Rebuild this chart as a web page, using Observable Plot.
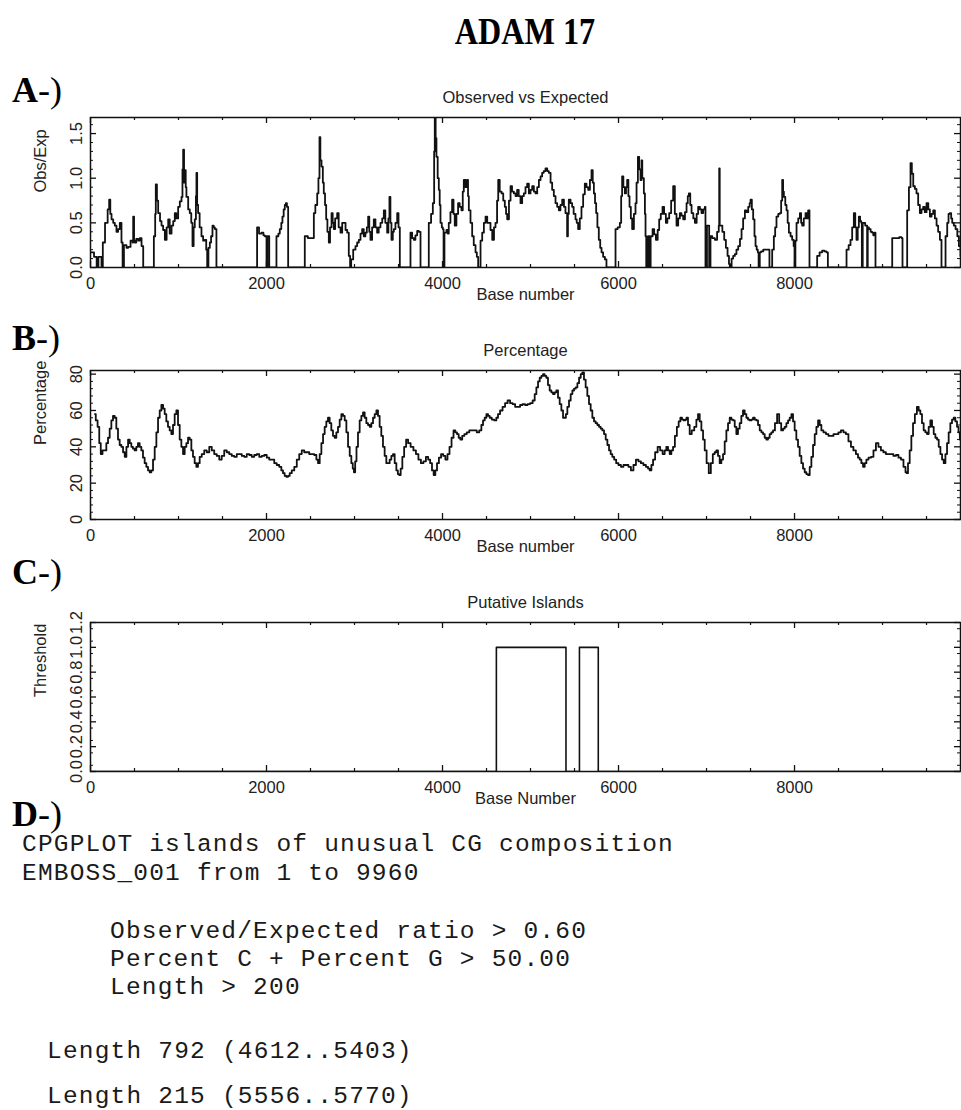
<!DOCTYPE html>
<html>
<head>
<meta charset="utf-8">
<script src="https://cdn.jsdelivr.net/npm/d3@7"></script>
<script src="https://cdn.jsdelivr.net/npm/@observablehq/plot@0.6"></script>
<style>
  html, body { margin: 0; padding: 0; background: #fff; }
  body { width: 961px; height: 1110px; position: relative; overflow: hidden; }
  .abs { position: absolute; white-space: pre; line-height: 1; }
  .heading { font-family: "Liberation Serif", "Times New Roman", serif; font-weight: bold; font-size: 37px; color: #000; transform: scaleX(0.87); transform-origin: 525px 0; }
  .tag { font-family: "Liberation Serif", "Times New Roman", serif; font-size: 36px; color: #000; }
  .tag b { font-weight: bold; }
  .mono { font-family: "Liberation Mono", "Courier New", monospace; font-size: 24.5px; letter-spacing: 1.2px; color: #1a1a1a; }
  .panel { position: absolute; left: 0; top: 0; width: 961px; height: 1110px; }
  .panel svg { max-width: none !important; display: block; }
</style>
</head>
<body>
<div id="panelA" class="panel"></div>
<div id="panelB" class="panel"></div>
<div id="panelC" class="panel"></div>
<div class="abs heading" style="left:0;width:1050px;text-align:center;top:13px">ADAM 17</div>
<div class="abs tag" style="left:12px;top:72px"><b>A</b>-)</div>
<div class="abs tag" style="left:12px;top:320px"><b>B</b>-)</div>
<div class="abs tag" style="left:12px;top:554px"><b>C</b>-)</div>
<div class="abs tag" style="left:12px;top:796px"><b>D</b>-)</div>
<div id="report"></div>
<script>
// CpG observed/expected ratio along the sequence: [base, ratio]
const obsExpTrace = [
  [0,0.17],[40,0.12],[70,0],[90,0.12],[125,0],[140,0.28],[165,0.5],[195,0.65],[212,0.76],[225,0.6],
  [239,0.54],[258,0.5],[276,0.47],[295,0.4],[314,0.43],[333,0.5],[352,0.28],[365,0],[380,0.25],[409,0.22],
  [428,0.23],[455,0.3],[478,0.28],[485,0.57],[495,0.3],[504,0.28],[520,0.32],[542,0.3],[560,0.33],[580,0.24],
  [599,0],[720,0.35],[735,0.6],[742,0.93],[755,0.75],[769,0.61],[790,0.52],[807,0.47],[825,0.42],[845,0.31],
  [865,0.45],[883,0.54],[900,0.38],[921,0.47],[940,0.52],[958,0.61],[975,0.55],[996,0.68],[1015,0.74],[1034,0.79],
  [1045,1.1],[1053,1.32],[1063,0.95],[1072,1.09],[1082,0.9],[1090,0.79],[1110,0.65],[1128,0.61],[1145,0.5],[1159,0.24],
  [1172,0.45],[1185,0.54],[1198,0.8],[1204,1.06],[1212,0.7],[1223,0.61],[1240,0.45],[1261,0.35],[1280,0.3],[1299,0.31],
  [1315,0.2],[1326,0],[1340,0.22],[1356,0.28],[1370,0.35],[1386,0.47],[1400,0.45],[1413,0.43],[1431,0],[1893,0.45],
  [1915,0.38],[1943,0.39],[1965,0.36],[1981,0.35],[2000,0],[2010,0.35],[2031,0],[2113,0.35],[2135,0.38],[2151,0.43],
  [2168,0.5],[2181,0.57],[2195,0.65],[2208,0.7],[2220,0.72],[2232,0.68],[2246,0],[2435,0.35],[2470,0.33],[2510,0.33],
  [2538,0.61],[2555,0.7],[2576,0.83],[2590,1.0],[2602,1.46],[2612,1.2],[2625,1.13],[2640,0.95],[2651,0.83],[2665,0.7],
  [2678,0.54],[2692,0.4],[2708,0.28],[2722,0.45],[2739,0.61],[2752,0.5],[2765,0.43],[2780,0.55],[2803,0.61],[2820,0.45],
  [2841,0.39],[2860,0.5],[2879,0.5],[2898,0.42],[2917,0.39],[2935,0.13],[2950,0],[2962,0.09],[2985,0.2],[3011,0.24],
  [3030,0.28],[3049,0.31],[3068,0.38],[3087,0.43],[3105,0.35],[3124,0.39],[3140,0.45],[3155,0.57],[3168,0.4],[3181,0.31],
  [3200,0.45],[3219,0.54],[3238,0.45],[3257,0.39],[3275,0.45],[3295,0.5],[3315,0.55],[3333,0.64],[3350,0.5],[3371,0.39],
  [3385,0.55],[3397,0.79],[3408,0.5],[3420,0.31],[3435,0.4],[3447,0.43],[3465,0.5],[3485,0.61],[3500,0.45],[3515,0],
  [3636,0.39],[3655,0.33],[3674,0.31],[3692,0.36],[3712,0.41],[3730,0.4],[3750,0],[3844,0.5],[3870,0.6],[3890,0.72],
  [3905,1.3],[3912,1.68],[3922,1.45],[3931,1.24],[3945,1.0],[3958,0.87],[3968,0.7],[3977,0.5],[3992,0.45],[4003,0.43],
  [4012,0],[4022,0.39],[4045,0.42],[4060,0.38],[4071,0.5],[4090,0.62],[4109,0.76],[4125,0.6],[4139,0.47],[4158,0.6],
  [4177,0.72],[4195,0.68],[4215,0.64],[4230,0.85],[4242,0.98],[4262,0.9],[4280,0.98],[4290,0.8],[4299,0.64],[4318,0.5],
  [4337,0.35],[4355,0.25],[4375,0.17],[4390,0.12],[4405,0],[4432,0.3],[4451,0.39],[4470,0.5],[4489,0.57],[4508,0.5],
  [4527,0.5],[4545,0.42],[4565,0.31],[4585,0.45],[4602,0.5],[4620,0.75],[4633,0.98],[4650,0.85],[4671,0.83],[4690,0.75],
  [4708,0.68],[4722,0.6],[4735,0.54],[4755,0.75],[4773,0.91],[4790,0.85],[4811,0.83],[4830,0.8],[4848,0.87],[4866,0.8],
  [4886,0.72],[4905,0.8],[4924,0.83],[4943,0.9],[4962,0.94],[4981,0.83],[5000,0.87],[5019,0.91],[5038,0.85],[5057,0.83],
  [5076,0.9],[5095,0.98],[5114,1.02],[5132,1.06],[5150,1.08],[5170,1.11],[5190,1.08],[5208,1.06],[5228,0.95],[5246,0.87],
  [5265,0.8],[5284,0.72],[5303,0.68],[5322,0.64],[5340,0.7],[5360,0.76],[5380,0.68],[5397,0.61],[5416,0.35],[5425,0.6],
  [5435,0.76],[5455,0.72],[5473,0.68],[5490,0.6],[5511,0.54],[5525,0.5],[5541,0.43],[5560,0.55],[5579,0.68],[5598,0.82],
  [5617,0.94],[5636,0.9],[5655,0.87],[5675,0.98],[5693,1.09],[5707,0.95],[5720,0.83],[5733,0.72],[5746,0.61],[5760,0.45],
  [5776,0.31],[5792,0.22],[5807,0.17],[5825,0.12],[5845,0.09],[5863,0],[5966,0.43],[5990,0.45],[6015,0.5],[6030,0.8],
  [6041,1.02],[6055,0.9],[6072,0.83],[6085,0.9],[6098,0.98],[6112,0.8],[6125,0.68],[6140,0.55],[6155,0.43],[6175,0.6],
  [6193,0.72],[6205,0.95],[6220,1.24],[6235,1.1],[6250,0.98],[6262,1.2],[6270,1.0],[6288,0.83],[6300,0.6],[6307,0.35],
  [6315,0],[6335,0.35],[6350,0],[6365,0.35],[6387,0.43],[6405,0.37],[6425,0.31],[6445,0.42],[6462,0.54],[6480,0.6],
  [6500,0.68],[6518,0.6],[6538,0.5],[6555,0.55],[6576,0.61],[6598,0.75],[6621,0.91],[6640,0.6],[6659,0.47],[6678,0.55],
  [6697,0.61],[6715,0.58],[6735,0.54],[6755,0.62],[6773,0.72],[6787,0.8],[6799,0.83],[6815,0.7],[6830,0.61],[6850,0.55],
  [6868,0.5],[6888,0.6],[6905,0.68],[6925,0.65],[6943,0.61],[6962,0.65],[6981,0.68],[6988,0],[7005,0.47],[7030,0],
  [7045,0.35],[7065,0.33],[7095,0.31],[7120,0.4],[7139,0.47],[7144,1.11],[7150,0.47],[7163,0.47],[7180,0.4],[7201,0.31],
  [7220,0.22],[7239,0.13],[7255,0.04],[7265,0],[7285,0.1],[7303,0.13],[7322,0.15],[7340,0.2],[7360,0.24],[7380,0.32],
  [7398,0.43],[7416,0.55],[7436,0.64],[7455,0.62],[7474,0.68],[7490,0.72],[7500,0.76],[7515,0.65],[7530,0.54],[7545,0.35],
  [7557,0.24],[7570,0.2],[7583,0.17],[7592,0],[7605,0.17],[7620,0.18],[7645,0.2],[7670,0.2],[7695,0.2],[7715,0],
  [7746,0.2],[7765,0.35],[7780,0.45],[7795,0.57],[7815,0.6],[7833,0.61],[7848,0.75],[7860,0.98],[7870,0.85],[7879,0.79],
  [7895,0.7],[7909,0.64],[7922,0.5],[7936,0.39],[7955,0.35],[7973,0.31],[7990,0.24],[8000,0],[8010,0.3],[8023,0.5],
  [8042,0.55],[8061,0.61],[8075,0.5],[8087,0.47],[8105,0.55],[8125,0.61],[8140,0.55],[8155,0.64],[8170,0],[8257,0.13],
  [8285,0.17],[8314,0.19],[8340,0.18],[8363,0.17],[8379,0],[8591,0.2],[8615,0.25],[8636,0.31],[8655,0.45],[8674,0.61],
  [8690,0.45],[8704,0.31],[8718,0.45],[8731,0.57],[8745,0.52],[8758,0.5],[8765,0],[8775,0.5],[8788,0.5],[8803,0.47],
  [8818,0.47],[8825,0],[8832,0.45],[8845,0.43],[8865,0.4],[8883,0.39],[8895,0.36],[8909,0.39],[8920,0],[9110,0.33],
  [9140,0.33],[9167,0.33],[9190,0.34],[9216,0.33],[9227,0],[9280,0.64],[9300,0.9],[9318,1.17],[9333,1.05],[9349,0.91],
  [9368,0.88],[9386,0.83],[9405,0.7],[9424,0.61],[9443,0.65],[9462,0.68],[9480,0.62],[9500,0.72],[9520,0.65],[9538,0.57],
  [9557,0.6],[9576,0.64],[9595,0.55],[9614,0.47],[9632,0.4],[9652,0.31],[9670,0],[9716,0.35],[9735,0.5],[9750,0.6],
  [9765,0.61],[9780,0.55],[9792,0.5],[9810,0.47],[9830,0.43],[9850,0.35],[9868,0.24],[9886,0.13]
];

// C+G percentage along the sequence: [base, percent]
const gcTrace = [
  [50,58],[70,54.5],[91,51],[108,42],[125,36],[148,38],[170,38],[190,42],[208,45],[228,50],
  [246,54.5],[265,57],[284,56],[303,50],[322,44],[341,41],[360,40],[380,37],[398,34.5],[418,40],
  [436,44],[455,42],[473,40],[492,39],[511,38],[530,40],[549,42],[568,40],[587,38],[606,34],
  [625,31],[644,29],[663,27],[682,26],[701,27],[720,33],[739,40],[758,48],[777,56],[796,60],
  [815,63],[834,61],[852,58],[871,54],[890,51],[909,49],[928,47],[947,52],[966,58],[985,60],
  [1004,52],[1023,44],[1042,40],[1061,36],[1080,40],[1099,42],[1118,45],[1137,44],[1155,38],[1174,34.5],
  [1193,31],[1212,29],[1231,31],[1250,34.5],[1278,36],[1307,38],[1335,37],[1364,40],[1392,38],[1420,36],
  [1449,35],[1477,33],[1505,35],[1534,38],[1562,37],[1591,36],[1619,35],[1648,34.5],[1676,36],[1705,36],
  [1733,35],[1761,34.5],[1790,36],[1818,35.5],[1846,34.5],[1875,35.5],[1903,36],[1932,34.5],[1960,35],[1989,35.5],
  [2017,34],[2045,33],[2074,33],[2102,31],[2130,30],[2159,29],[2178,27],[2197,25.5],[2216,24],[2235,23.5],
  [2254,24],[2273,25.5],[2301,27],[2330,29],[2358,33],[2386,36],[2415,38],[2443,37],[2471,37],[2500,36],
  [2528,36],[2557,35.5],[2576,33],[2595,31],[2614,36],[2633,42],[2652,47],[2670,51],[2689,54],[2708,56],
  [2727,53],[2746,49],[2765,46],[2784,45],[2803,48],[2822,51],[2841,55],[2860,58],[2879,57],[2898,54.5],
  [2917,48],[2936,40],[2955,35],[2973,31],[2987,28],[3000,26],[3015,32],[3030,40],[3049,48],[3068,54.5],
  [3087,57],[3106,59],[3125,56],[3144,53],[3163,52],[3182,51],[3201,53],[3220,56],[3239,58],[3258,60],
  [3276,57],[3295,51],[3314,46],[3333,40],[3352,35],[3371,31],[3390,31],[3409,33],[3428,35],[3447,36],
  [3466,31],[3485,27],[3500,25],[3515,24.5],[3534,28],[3553,34.5],[3575,40],[3598,44],[3620,42],[3655,40],
  [3684,38],[3712,36],[3740,33],[3769,31],[3797,32],[3826,34.5],[3848,33],[3871,31],[3890,27],[3909,24.5],
  [3928,27],[3947,31],[3971,34],[3996,36],[4020,35],[4045,33],[4068,36],[4091,40],[4114,45],[4136,49],
  [4155,48],[4174,47],[4193,45],[4212,44],[4236,46],[4261,47],[4290,48],[4318,49],[4347,49],[4375,49],
  [4403,48],[4432,49],[4451,52],[4470,54.5],[4489,56],[4508,58],[4527,57],[4545,56],[4574,55],[4602,54.5],
  [4621,56],[4640,58],[4668,60],[4697,62],[4725,64],[4754,65.5],[4782,64],[4811,63.5],[4839,62],[4867,62],
  [4896,63],[4924,63.5],[4952,63],[4981,63.5],[5010,64],[5038,65.5],[5057,69],[5076,72.7],[5095,76],[5114,78],
  [5133,79],[5151,80],[5170,79],[5189,78],[5208,74],[5227,71],[5246,70],[5265,69],[5284,70],[5303,71],
  [5322,67],[5341,63.5],[5360,60],[5379,56],[5394,56],[5409,58],[5428,62],[5447,65.5],[5466,69],[5485,71],
  [5504,72],[5523,72.7],[5542,75],[5561,78],[5580,80],[5598,81],[5617,77],[5636,72.7],[5655,68],[5674,63.5],
  [5693,60],[5712,56],[5731,54],[5750,53],[5769,52],[5788,51],[5807,50],[5826,49],[5845,47],[5864,44],
  [5883,41],[5902,38],[5920,36],[5939,34.5],[5962,33],[5985,31],[6013,30],[6042,29],[6070,30],[6098,30],
  [6127,29],[6155,27],[6184,30],[6212,33],[6240,32],[6269,31],[6297,30],[6326,29],[6345,28],[6364,27],
  [6383,30],[6402,33],[6430,37],[6459,40],[6487,38],[6515,36],[6534,38],[6553,40],[6572,38],[6591,36],
  [6610,38],[6629,40],[6652,46],[6674,51],[6693,54],[6712,56],[6731,55],[6750,54.5],[6765,55],[6780,56],
  [6799,52],[6818,47],[6846,49],[6875,51],[6894,55],[6913,58],[6932,54],[6951,49],[6970,44],[6989,38],
  [7013,31],[7038,25.5],[7060,31],[7083,36],[7102,37],[7121,38],[7140,35],[7159,31],[7178,33],[7197,36],
  [7216,43],[7235,49],[7254,53],[7273,56],[7292,55],[7311,54.5],[7330,51],[7348,47],[7367,50],[7386,53],
  [7405,57],[7424,60],[7443,58],[7462,56],[7481,55],[7500,54.5],[7519,55],[7538,56],[7557,55],[7576,54.5],
  [7595,52],[7614,49],[7633,48],[7652,47],[7670,45],[7689,44],[7708,45],[7727,47],[7746,48],[7765,49],
  [7790,53],[7814,58],[7837,53],[7860,49],[7879,50],[7898,51],[7917,53],[7936,54.5],[7955,56],[7974,58],
  [7992,54],[8011,49],[8030,44],[8049,40],[8068,35],[8087,31],[8106,28],[8125,26],[8144,25],[8163,24.5],
  [8182,29],[8201,34.5],[8220,41],[8239,47],[8258,51],[8277,54.5],[8296,52],[8314,49],[8343,48],[8371,47],
  [8400,46],[8428,46],[8457,47],[8485,47],[8513,48],[8542,49],[8570,48],[8598,47],[8627,43],[8655,40],
  [8683,38],[8712,36],[8731,34],[8750,33],[8769,31],[8788,29],[8807,31],[8826,33],[8855,34],[8883,34.5],
  [8911,38],[8939,42],[8968,40],[8996,38],[9024,37],[9053,36],[9081,36],[9110,36],[9138,35],[9167,35.5],
  [9195,34],[9224,33],[9252,29],[9270,26],[9280,25.5],[9299,31],[9318,38],[9337,46],[9356,53],[9379,58],
  [9402,62],[9420,60],[9439,58],[9458,53],[9477,49],[9496,48],[9515,47],[9534,51],[9553,54.5],[9572,51],
  [9591,47],[9610,45],[9629,44],[9648,40],[9667,36],[9686,33],[9705,31],[9724,36],[9742,42],[9761,48],
  [9780,53],[9799,55],[9818,56],[9837,54],[9856,51],[9871,48],[9886,44]
];

// Putative CpG islands (start..end, inclusive)
const islandStart = [4612, 5556];
const islandEnd = [5403, 5770];

// Sequence and island criteria
const seqName = "EMBOSS_001";
const seqFrom = 1;
const seqTo = 9960;
const minObsExp = 0.60;
const minPercentCG = 50.00;
const minLength = 200;

// Axis ticks
const xDomain = [0, 9886];
const xMajor = [0, 2000, 4000, 6000, 8000];
const xMinor = d3.range(500, 9886, 500).filter(v => v % 2000 !== 0);

// Island indicator built as a 0/1 step series
const islandTrace = [[0, 0]];
islandStart.forEach((s, i) => {
  islandTrace.push([s, 1]);
  islandTrace.push([islandEnd[i], 0]);
});
islandTrace.push([xDomain[1], 0]);

const INK = "#111";
const FONT = "'Liberation Sans', Arial, sans-serif";

function panel({frameTop, frameH, data, yDomain, yMajor, yMinor, yFormat, title, xLabel, yLabel, curve, lineWidth}) {
  const mt = 40, mb = 50, ml = 90, mr = 1, W = 961;
  const fw = W - ml - mr;
  const chart = Plot.plot({
    width: W,
    height: mt + frameH + mb,
    marginTop: mt, marginBottom: mb, marginLeft: ml, marginRight: mr,
    style: {fontFamily: FONT, fontSize: "16.5px", color: "#222", background: "transparent", overflow: "visible"},
    x: {domain: xDomain},
    y: {domain: yDomain},
    marks: [
      Plot.line(data, {x: d => d[0], y: d => d[1], curve, stroke: INK, strokeWidth: lineWidth, clip: true}),
      Plot.frame({stroke: INK, strokeWidth: 1.5}),
      // inward ticks on all four sides
      Plot.tickX(xMajor, {x: d => d, insetTop: frameH - 6, stroke: INK, strokeWidth: 1.3}),
      Plot.tickX(xMajor, {x: d => d, insetBottom: frameH - 6, stroke: INK, strokeWidth: 1.3}),
      Plot.tickX(xMinor, {x: d => d, insetTop: frameH - 3, stroke: INK, strokeWidth: 1.2}),
      Plot.tickX(xMinor, {x: d => d, insetBottom: frameH - 3, stroke: INK, strokeWidth: 1.2}),
      Plot.tickY(yMajor, {y: d => d, insetRight: fw - 6, stroke: INK, strokeWidth: 1.3}),
      Plot.tickY(yMajor, {y: d => d, insetLeft: fw - 6, stroke: INK, strokeWidth: 1.3}),
      Plot.tickY(yMinor, {y: d => d, insetRight: fw - 3, stroke: INK, strokeWidth: 1}),
      Plot.tickY(yMinor, {y: d => d, insetLeft: fw - 3, stroke: INK, strokeWidth: 1}),
      Plot.axisX({ticks: xMajor, tickSize: 0, tickPadding: 10, tickFormat: d => String(d), label: null, fill: "#222"}),
      Plot.axisY({ticks: yMajor, tickSize: 0, tickPadding: 9, tickRotate: -90, tickFormat: yFormat, label: null, fill: "#222"}),
      Plot.text([title], {text: d => d, frameAnchor: "top", dy: -26, fill: "#222"}),
      Plot.text([xLabel], {text: d => d, frameAnchor: "bottom", dy: 32, fill: "#222"}),
      Plot.text([yLabel], {text: d => d, frameAnchor: "left", dx: -50, rotate: -90, fill: "#222"})
    ]
  });
  chart.style.position = "absolute";
  chart.style.left = "0px";
  chart.style.top = (frameTop - mt) + "px";
  chart.style.width = W + "px";
  chart.style.height = (mt + frameH + mb) + "px";
  return chart;
}

document.getElementById("panelA").appendChild(panel({
  frameTop: 117, frameH: 150, data: obsExpTrace, curve: "step-after", lineWidth: 1.8,
  yDomain: [0, 1.68], yMajor: [0, 0.5, 1.0, 1.5], yMinor: d3.range(0.1, 1.68, 0.1).filter(v => Math.abs(v * 2 - Math.round(v * 2)) > 1e-6),
  yFormat: d3.format(".1f"), title: "Observed vs Expected", xLabel: "Base number", yLabel: "Obs/Exp"
}));

document.getElementById("panelB").appendChild(panel({
  frameTop: 370, frameH: 149, data: gcTrace, curve: "step", lineWidth: 1.8,
  yDomain: [0, 82], yMajor: [0, 20, 40, 60, 80], yMinor: d3.range(4, 82, 4).filter(v => v % 20 !== 0),
  yFormat: d3.format("d"), title: "Percentage", xLabel: "Base number", yLabel: "Percentage"
}));

document.getElementById("panelC").appendChild(panel({
  frameTop: 622, frameH: 149, data: islandTrace, curve: "step-after", lineWidth: 1.6,
  yDomain: [0, 1.2], yMajor: [0, 0.2, 0.4, 0.6, 0.8, 1.0, 1.2], yMinor: d3.range(0.05, 1.2, 0.1),
  yFormat: d3.format(".1f"), title: "Putative Islands", xLabel: "Base Number", yLabel: "Threshold"
}));

// Text report of the island search
const reportLines = [
  {text: "CPGPLOT islands of unusual CG composition", left: 22, top: 832.5},
  {text: `${seqName} from ${seqFrom} to ${seqTo}`, left: 22, top: 861.5},
  {text: `Observed/Expected ratio > ${minObsExp.toFixed(2)}`, left: 110, top: 920},
  {text: `Percent C + Percent G > ${minPercentCG.toFixed(2)}`, left: 110, top: 948},
  {text: `Length > ${minLength}`, left: 110, top: 976}
];
const islandTops = [1040, 1085];
islandStart.forEach((s, i) => {
  const e = islandEnd[i];
  reportLines.push({text: `Length ${e - s + 1} (${s}..${e})`, left: 47, top: islandTops[i]});
});
const report = document.getElementById("report");
reportLines.forEach(l => {
  const div = document.createElement("div");
  div.className = "abs mono";
  div.style.left = l.left + "px";
  div.style.top = l.top + "px";
  div.textContent = l.text;
  report.appendChild(div);
});
</script>
</body>
</html>
